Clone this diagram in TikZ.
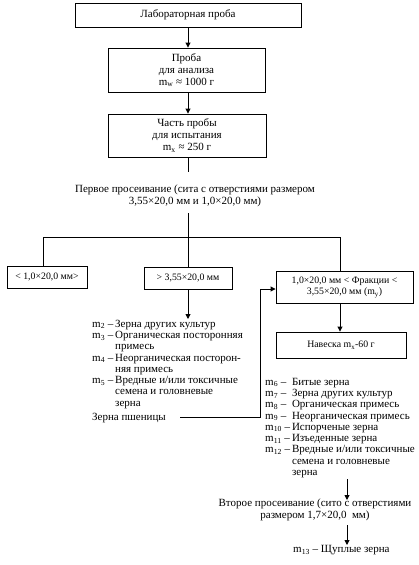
\documentclass[tikz,border=0pt]{standalone}
\usepackage{fontspec}
\setmainfont{Liberation Serif}
\usetikzlibrary{arrows.meta}
\newcommand\fsz{\fontsize{11}{12}\selectfont}
\newcommand\fsl{\fontsize{11}{11.3}\selectfont}
\newcommand\fss{\fontsize{9.8}{11.5}\selectfont}
\begin{document}
\begin{tikzpicture}[x=1pt,y=-1pt,
  box/.style={draw, line width=0.9pt, align=center, inner sep=0pt, font=\fsz},
  sbox/.style={draw, line width=0.9pt, align=center, inner sep=0pt, font=\fss},
  txt/.style={align=center, inner sep=0pt, font=\fsz},
  lst/.style={anchor=north west, inner sep=0pt, font=\fsl},
  ln/.style={line width=0.9pt},
  ar/.style={line width=0.9pt, -{Triangle[length=5pt,width=5pt]}}]
\useasboundingbox (0,0) rectangle (419,565);
% boxes
\node[box, minimum width=226pt, minimum height=24pt] (lab) at (188,15) {Лабораторная проба};
\node[box, minimum width=157pt, minimum height=44pt] (anal) at (186.5,70) {Проба\\для анализа\\m\textsubscript{w} ≈ 1000 г};
\node[box, minimum width=158pt, minimum height=43pt] (part) at (187,135.5) {Часть пробы\\для испытания\\m\textsubscript{x} ≈ 250 г};
\node[txt] (s1) at (195,196) {Первое просеивание (сита с отверстиями размером\\3,55×20,0 мм и 1,0×20,0 мм)};
\node[sbox, minimum width=80pt, minimum height=22pt] (b1) at (47,277) {< 1,0×20,0 мм>};
\node[sbox, minimum width=88pt, minimum height=22pt] (b2) at (188,278) {> 3,55×20,0 мм};
\node[sbox, minimum width=137pt, minimum height=32pt] (fr) at (344.5,287) {1,0×20,0 мм < Фракции <\\3,55×20,0 мм (m\textsubscript{y})};
\node[sbox, minimum width=130pt, minimum height=26pt] (nav) at (341,345) {Навеска m\textsubscript{x}-60 г};
% lists
\node[lst] (l1) at (92,319) {\begin{tabular}{@{}l@{\,}l@{}}
m\textsubscript{2} – & Зерна других культур\\
m\textsubscript{3} – & Органическая посторонняя\\
 & примесь\\
m\textsubscript{4} – & Неорганическая посторон-\\
 & няя примесь\\
m\textsubscript{5} – & Вредные и/или токсичные\\
 & семена и головневые\\
 & зерна\\[2.5pt]
\multicolumn{2}{@{}l}{Зерна пшеницы}
\end{tabular}};
\node[lst] (l2) at (265,377) {\begin{tabular}{@{}l@{\,}l@{}}
m\textsubscript{6} – & Битые зерна\\
m\textsubscript{7} – & Зерна других культур\\
m\textsubscript{8} – & Органическая примесь\\
m\textsubscript{9} – & Неорганическая примесь\\
m\textsubscript{10} – & Испорченые зерна\\
m\textsubscript{11} – & Изъеденные зерна\\
m\textsubscript{12} – & Вредные и/или токсичные\\
 & семена и головневые\\
 & зерна
\end{tabular}};
\node[txt] (s2) at (315,510) {Второе просеивание (сито с отверстиями\\размером 1,7×20,0~ мм)};
\node[txt, anchor=west] (m13) at (293,550) {m\textsubscript{13} – Щуплые зерна};
% coordinates
\coordinate (s1top) at (188,172);
\coordinate (s1bot) at (188,213);
\coordinate (hl) at (43,237);
\coordinate (hm) at (188,237);
\coordinate (hr) at (340,237);
\coordinate (wl) at (180,417);
\coordinate (wc) at (260,417);
\coordinate (wt) at (260,289);
\coordinate (a2top) at (347,479);
\coordinate (a2bot) at (347,500);
\coordinate (a3top) at (347,525);
\coordinate (a3bot) at (347,545);
% connectors
\draw[ar] (lab.south -| hm) -- (anal.north -| hm);
\draw[ar] (anal.south -| hm) -- (part.north -| hm);
\draw[ln] (part.south -| hm) -- (s1top);
\draw[ln] (s1bot) -- (hm);
\draw[ln] (hl) -- (hr);
\draw[ln] (hl) -- (hl |- b1.north);
\draw[ln] (hm) -- (b2.north -| hm);
\draw[ln] (hr) -- (hr |- fr.north);
\draw[ar] (b2.south -| hm) -- (hm |- l1.north);
\draw[ar] (fr.south -| hr) -- (nav.north -| hr);
\draw[ar] (wl) -- (wc) -- (wt) -- (wt -| fr.west);
\draw[ar] (a2top) -- (a2bot);
\draw[ar] (a3top) -- (a3bot);
\end{tikzpicture}
\end{document}
